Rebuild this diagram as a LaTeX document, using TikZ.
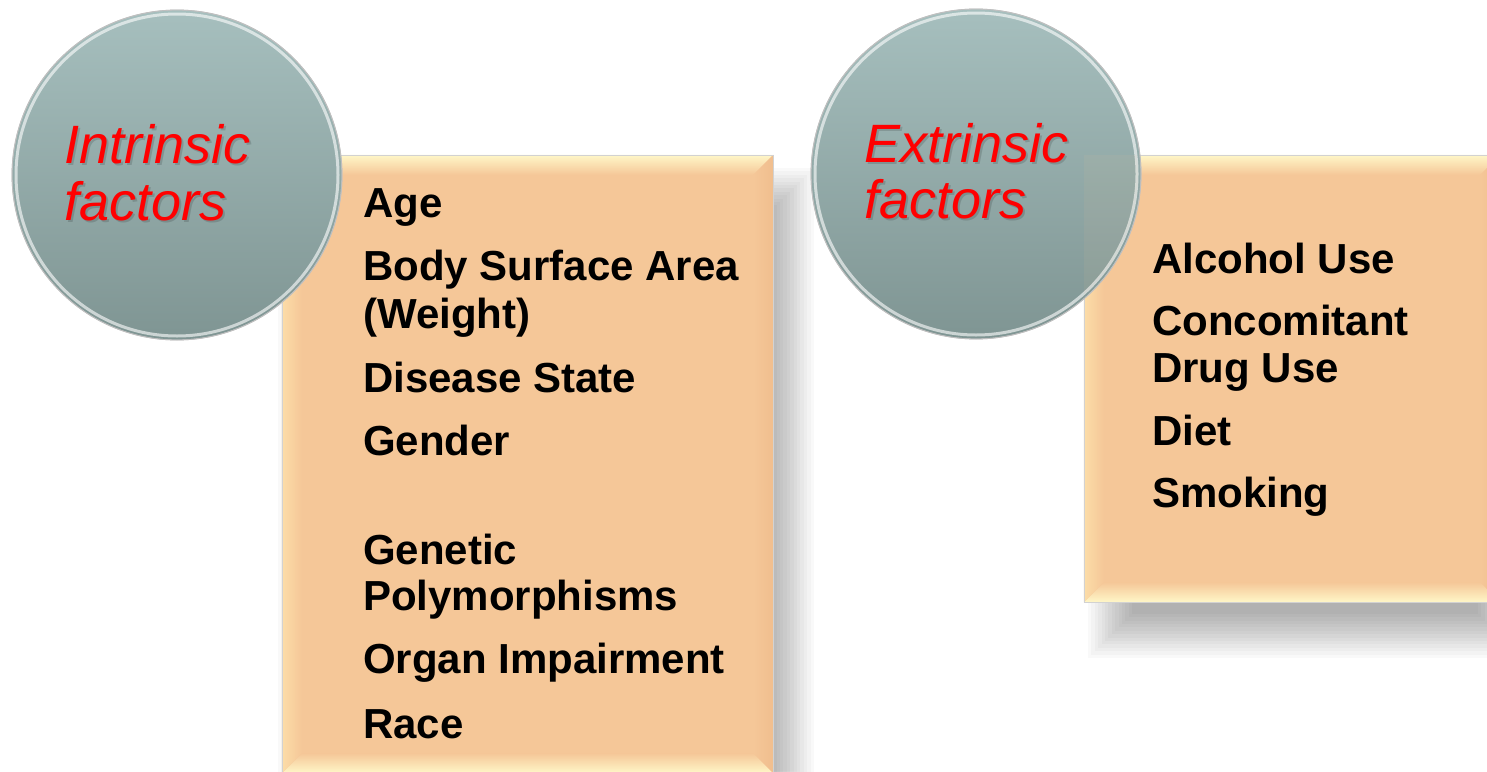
\documentclass[tikz,border=0pt]{standalone}
\usepackage{fontspec}
\setmainfont{Liberation Sans}
\usetikzlibrary{calc}
\definecolor{peach}{HTML}{F5C798}
\definecolor{peachhi}{HTML}{FFF7C8}
\definecolor{peachleft}{HTML}{FCDDA8}
\definecolor{peachright}{HTML}{F0BE8E}
\definecolor{circtop}{HTML}{A6BFBE}
\definecolor{circbot}{HTML}{7F9593}
\tikzset{
  itemtext/.style={anchor=base west, inner sep=0pt, font=\fontsize{42}{46}\selectfont\bfseries, text=black},
  titletext/.style={anchor=base west, inner sep=0pt, font=\fontsize{54}{57}\selectfont\itshape, text=red},
  titleshadow/.style={titletext, text=black, opacity=0.14},
  disc/.style={circle, minimum size=330pt, inner sep=0pt, shade, top color=circtop, bottom color=circbot, draw=gray!45, line width=0.8pt},
  boxbase/.style={rectangle, inner sep=0pt, fill=peach, draw=none},
}
\newcommand\softshadow[4]{%
  \foreach \i in {0,...,13}{%
    \fill[black, opacity=0.022] ({#1-22+3.4*\i},{#2-22+3.4*\i}) rectangle ({#3+22-3.4*\i},{#4+22-3.4*\i});}%
}
\newcommand\bevelbox[1]{%
  \shade[top color=peachhi, bottom color=peach] (#1.north west) -- (#1.north east) -- ($(#1.north east)+(-20,20)$) -- ($(#1.north west)+(20,20)$) -- cycle;
  \shade[top color=peach, bottom color=peachhi] (#1.south west) -- (#1.south east) -- ($(#1.south east)+(-20,-20)$) -- ($(#1.south west)+(20,-20)$) -- cycle;
  \shade[left color=peachleft, right color=peach] (#1.north west) -- ($(#1.north west)+(20,20)$) -- ($(#1.south west)+(20,-20)$) -- (#1.south west) -- cycle;
  \shade[left color=peach, right color=peachright] (#1.north east) -- ($(#1.north east)+(-20,20)$) -- ($(#1.south east)+(-20,-20)$) -- (#1.south east) -- cycle;
  \draw[gray!35, line width=0.6pt] (#1.north west) rectangle (#1.south east);
}
\begin{document}
\begin{tikzpicture}[x=1pt, y=-1pt]
\useasboundingbox (0,0) rectangle (1487,771);
\clip (0,0) rectangle (1487,771);
\fill[white] (0,0) rectangle (1487,771);

% shadows
\softshadow{300}{190}{792}{800}
\softshadow{1110}{200}{1500}{636}

% boxes
\node[boxbase, minimum width=491pt, minimum height=618pt] (b1) at (527.5,464) {};
\bevelbox{b1}
\node[boxbase, minimum width=416pt, minimum height=447pt] (b2) at (1292,378.5) {};
\bevelbox{b2}

% circles
\node[disc] (c1) at (177,175) {};
\draw[white, opacity=0.6, line width=3pt] (c1.center) circle (161pt);
\draw[gray!50, line width=0.8pt] (c1.center) circle (165pt);
\node[disc] (c2) at (976,174) {};
\draw[white, opacity=0.6, line width=3pt] (c2.center) circle (161pt);
\draw[gray!50, line width=0.8pt] (c2.center) circle (165pt);
\begin{scope}
  \clip (c2.center) circle (162pt);
  \fill[peach, opacity=0.08] (b2.north west) rectangle (b2.south east);
\end{scope}

% titles
\node[titleshadow] at (66,165) {Intrinsic};
\node[titleshadow] at (66,222) {factors};
\node[titletext] (t1a) at (64,163) {Intrinsic};
\node[titletext] (t1b) at (64,220) {factors};
\node[titleshadow] at (866,164) {Extrinsic};
\node[titleshadow] at (866,220) {factors};
\node[titletext] (t2a) at (864,162) {Extrinsic};
\node[titletext] (t2b) at (864,218) {factors};

% intrinsic items
\node[itemtext] (age) at (363,217) {Age};
\node[itemtext] (bsa) at (363,280) {Body Surface Area};
\node[itemtext] (wt) at (363,328) {(Weight)};
\node[itemtext] (dis) at (363,392) {Disease State};
\node[itemtext] (gen) at (363,455) {Gender};
\node[itemtext] (gpa) at (363,564) {Genetic};
\node[itemtext] (gpb) at (363,610) {Polymorphisms};
\node[itemtext] (org) at (363,673) {Organ Impairment};
\node[itemtext] (race) at (363,738) {Race};

% extrinsic items
\node[itemtext] (alc) at (1152,273) {Alcohol Use};
\node[itemtext] (cda) at (1152,335) {Concomitant};
\node[itemtext] (cdb) at (1152,382) {Drug Use};
\node[itemtext] (diet) at (1152,445) {Diet};
\node[itemtext] (smk) at (1152,507) {Smoking};
\end{tikzpicture}
\end{document}
